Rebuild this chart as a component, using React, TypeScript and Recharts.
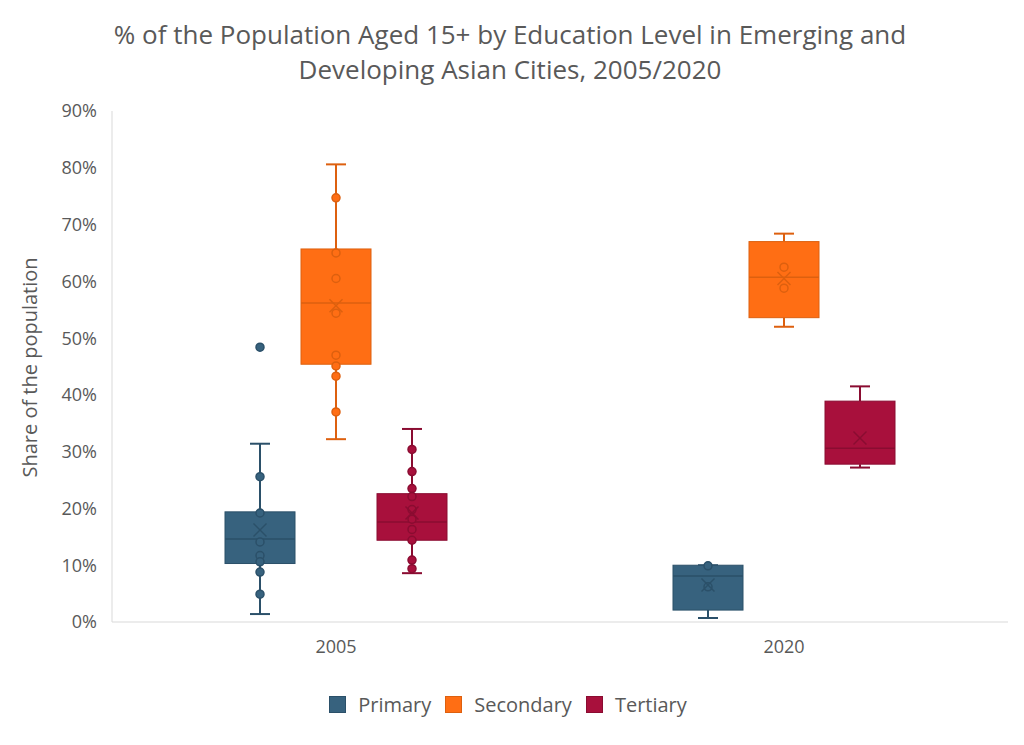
import { ComposedChart, Bar, XAxis, YAxis, Legend } from 'recharts';

const years = ['2005', '2020'];

// box stats per year: [min, q1, median, q3, max]
const primaryBox = [[1.4, 10.3, 14.6, 19.4, 31.4], [0.7, 2.1, 8.1, 10.0, 10.0]];
const secondaryBox = [[32.2, 45.4, 56.2, 65.7, 80.6], [52.0, 53.6, 60.7, 67.0, 68.4]];
const tertiaryBox = [[8.6, 14.4, 17.6, 22.6, 34.0], [27.2, 27.8, 30.6, 38.9, 41.5]];

const primaryMean = [16.2, 6.5];
const secondaryMean = [55.7, 60.5];
const tertiaryMean = [19.2, 32.4];

const primaryPoints = [[48.4, 25.6, 19.2, 14.1, 11.7, 10.6, 8.8, 4.9], [9.9, 6.2]];
const secondaryPoints = [[74.7, 65.0, 60.5, 54.4, 47.0, 45.1, 43.3, 37.0], [62.5, 58.8]];
const tertiaryPoints = [[30.4, 26.5, 23.5, 22.1, 19.8, 18.1, 16.3, 14.4, 10.9, 9.4], []];

const yTicks = [0, 10, 20, 30, 40, 50, 60, 70, 80, 90];

const series = [
  { key: 'primary', name: 'Primary', fill: '#37627E', stroke: '#2B5069', box: primaryBox, mean: primaryMean, points: primaryPoints },
  { key: 'secondary', name: 'Secondary', fill: '#FF6E14', stroke: '#DD600F', box: secondaryBox, mean: secondaryMean, points: secondaryPoints },
  { key: 'tertiary', name: 'Tertiary', fill: '#A8103C', stroke: '#8A0C31', box: tertiaryBox, mean: tertiaryMean, points: tertiaryPoints },
];

const data = years.map((year, i) => {
  const row: any = { year };
  series.forEach((s) => {
    const all = [...s.box[i], ...s.points[i]];
    row[s.key + 'Range'] = [Math.min(...all), Math.max(...all)];
    row[s.key + 'Box'] = s.box[i];
    row[s.key + 'Mean'] = s.mean[i];
    row[s.key + 'Points'] = s.points[i];
  });
  return row;
});

const font = '"Open Sans", sans-serif';
const textColor = '#595959';

function makeBoxShape(key: string, fill: string, stroke: string) {
  return (props: any) => {
    const { x, y, width, height, payload } = props;
    if (!payload || !isFinite(y) || !isFinite(height)) return <g />;
    const [lo, hi] = payload[key + 'Range'];
    const [mn, q1, med, q3, mx] = payload[key + 'Box'];
    const mean = payload[key + 'Mean'];
    const pts: number[] = payload[key + 'Points'];
    const py = (v: number) => y + ((hi - v) / (hi - lo)) * height;
    const cx = x + width / 2;
    const cap = 10;
    const m = 6.5;
    return (
      <g>
        <line x1={cx} x2={cx} y1={py(mx)} y2={py(q3)} stroke={stroke} strokeWidth={2} />
        <line x1={cx} x2={cx} y1={py(q1)} y2={py(mn)} stroke={stroke} strokeWidth={2} />
        <line x1={cx - cap} x2={cx + cap} y1={py(mx)} y2={py(mx)} stroke={stroke} strokeWidth={2} />
        <line x1={cx - cap} x2={cx + cap} y1={py(mn)} y2={py(mn)} stroke={stroke} strokeWidth={2} />
        <rect x={x} y={py(q3)} width={width} height={py(q1) - py(q3)} fill={fill} stroke={stroke} strokeWidth={1} />
        <line x1={x} x2={x + width} y1={py(med)} y2={py(med)} stroke={stroke} strokeWidth={1.5} />
        {pts.map((v, i) => (
          <circle key={i} cx={cx} cy={py(v)} r={4} fill={fill} stroke={stroke} strokeWidth={1.5} />
        ))}
        <line x1={cx - m} x2={cx + m} y1={py(mean) - m} y2={py(mean) + m} stroke={stroke} strokeWidth={1.5} />
        <line x1={cx - m} x2={cx + m} y1={py(mean) + m} y2={py(mean) - m} stroke={stroke} strokeWidth={1.5} />
      </g>
    );
  };
}

function LegendContent() {
  return (
    <div style={{ display: 'flex', justifyContent: 'center', gap: 14, fontFamily: font, fontSize: 20, color: textColor }}>
      {series.map((s) => (
        <div key={s.key} style={{ display: 'flex', alignItems: 'center' }}>
          <span style={{ display: 'inline-block', width: 15, height: 15, background: s.fill, border: `1px solid ${s.stroke}`, marginRight: 12 }} />
          <span>{s.name}</span>
        </div>
      ))}
    </div>
  );
}

export default function App() {
  return (
    <div style={{ position: 'relative', width: 1016, height: 737, fontFamily: font }}>
      <div
        style={{
          position: 'absolute',
          left: 0,
          top: 9,
          width: 1004,
          textAlign: 'center',
          fontSize: 26,
          lineHeight: '35px',
          color: textColor,
        }}
      >
        % of the Population Aged 15+ by Education Level in Emerging and
        <br />
        Developing Asian Cities, 2005/2020
      </div>
      <ComposedChart
        width={1016}
        height={737}
        data={data}
        margin={{ top: 103, right: 16, left: 0, bottom: 24 }}
        barSize={70}
        barGap={6}
      >
        <XAxis
          dataKey="year"
          stroke="#D9D9D9"
          tickLine={false}
          tickMargin={12}
          height={69}
          tick={{ fill: textColor, fontSize: 18, fontFamily: font }}
        />
        <YAxis
          type="number"
          domain={[0, 90]}
          ticks={yTicks}
          width={104}
          stroke="#D9D9D9"
          tickLine={false}
          tickMargin={9}
          tickFormatter={(v: number) => `${v}%`}
          tick={{ fill: textColor, fontSize: 18, fontFamily: font }}
          label={{
            value: 'Share of the population',
            angle: -90,
            position: 'center',
            dx: -30,
            dy: 1,
            style: { fill: textColor, fontSize: 20, fontFamily: font },
          }}
        />
        <Legend verticalAlign="bottom" height={30} content={<LegendContent />} />
        {series.map((s) => (
          <Bar
            key={s.key}
            dataKey={s.key + 'Range'}
            name={s.name}
            fill={s.fill}
            isAnimationActive={false}
            shape={makeBoxShape(s.key, s.fill, s.stroke)}
          />
        ))}
      </ComposedChart>
    </div>
  );
}
